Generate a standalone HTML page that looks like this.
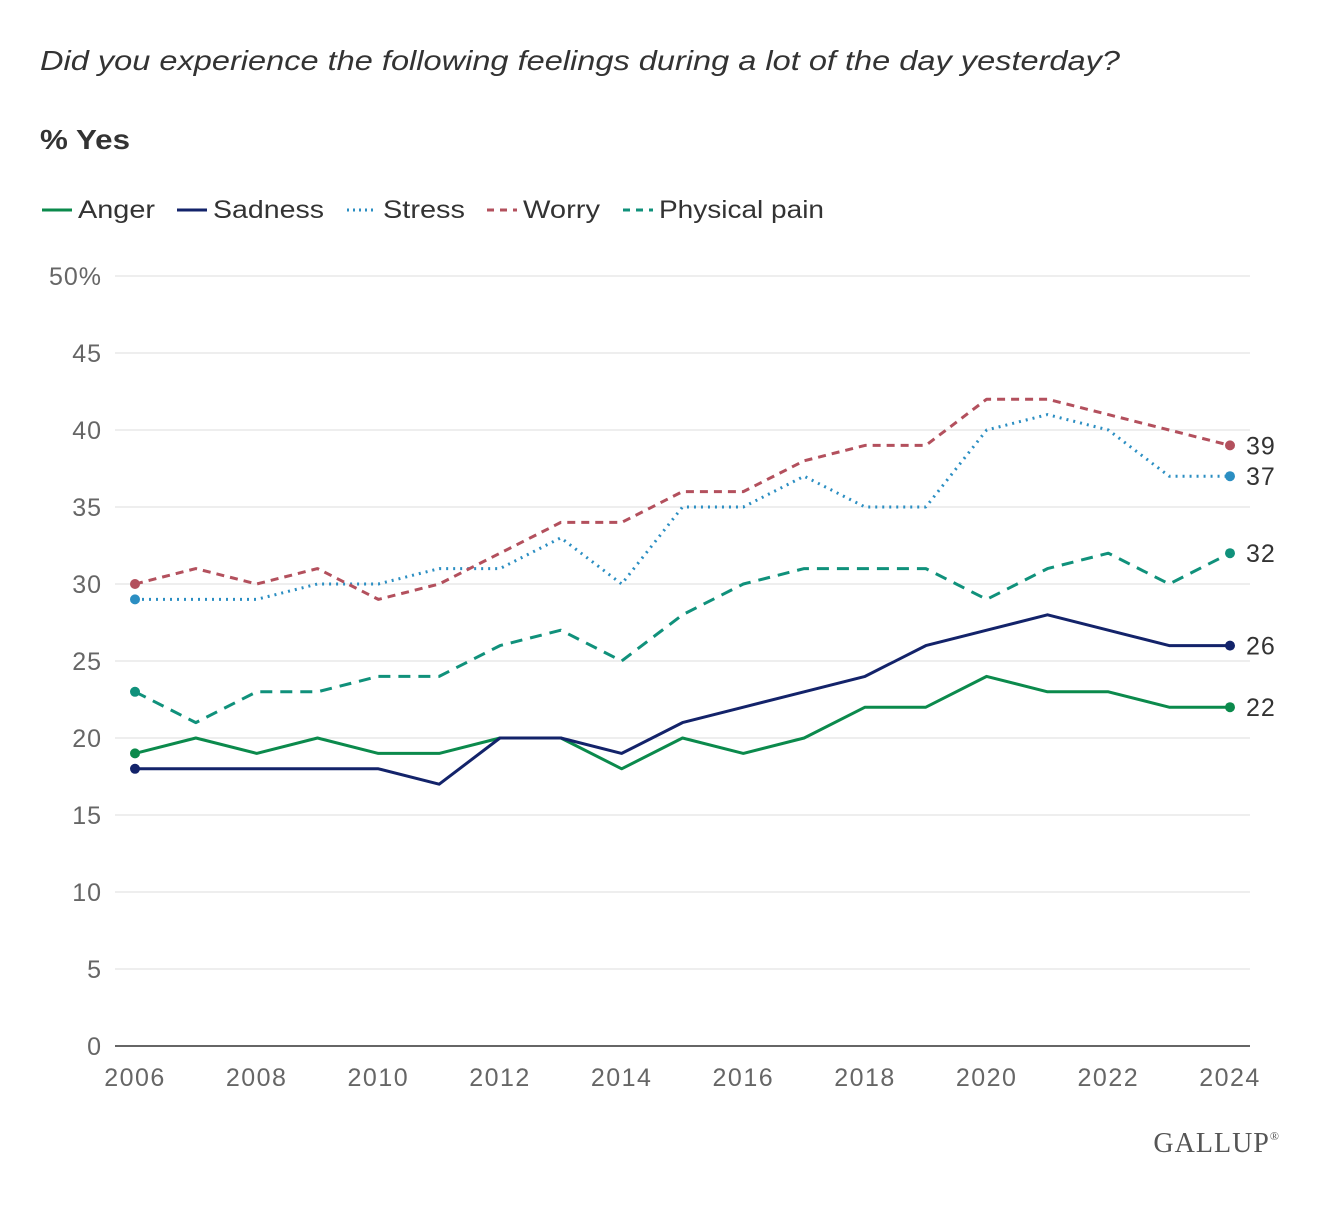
<!DOCTYPE html>
<html><head><meta charset="utf-8"><style>
body{margin:0;background:#fff;width:1320px;height:1200px;overflow:hidden;font-family:"Liberation Sans",sans-serif}
</style></head><body>
<svg id="chart" width="1320" height="1200" xmlns="http://www.w3.org/2000/svg">
<text x="40" y="70" font-size="28" font-style="italic" fill="#333" textLength="1080" lengthAdjust="spacingAndGlyphs">Did you experience the following feelings during a lot of the day yesterday?</text>
<text x="40" y="149" font-size="28" font-weight="bold" fill="#333" textLength="90" lengthAdjust="spacingAndGlyphs">% Yes</text>
<g id="legend"></g>
<g id="grid"></g>
<g id="series"></g>
<text x="1280" y="1152" font-size="28" text-anchor="end" fill="#555" font-family="Liberation Serif,serif" letter-spacing="1">GALLUP<tspan font-size="12" dy="-12">®</tspan></text>
</svg>
<script>
const years=[2006,2007,2008,2009,2010,2011,2012,2013,2014,2015,2016,2017,2018,2019,2020,2021,2022,2023,2024];
const anger=[19,20,19,20,19,19,20,20,18,20,19,20,22,22,24,23,23,22,22];
const sadness=[18,18,18,18,18,17,20,20,19,21,22,23,24,26,27,28,27,26,26];
const stress=[29,29,29,30,30,31,31,33,30,35,35,37,35,35,40,41,40,37,37];
const worry=[30,31,30,31,29,30,32,34,34,36,36,38,39,39,42,42,41,40,39];
const pain=[23,21,23,23,24,24,26,27,25,28,30,31,31,31,29,31,32,30,32];
const yTicks=[0,5,10,15,20,25,30,35,40,45,50];
const xTicks=[2006,2008,2010,2012,2014,2016,2018,2020,2022,2024];
const NS="http://www.w3.org/2000/svg";
const x=v=>135+(v-2006)*(1230-135)/18;
const y=v=>1046-v*(1046-276)/50;
function mk(t,a,p){const e=document.createElementNS(NS,t);for(const k in a)e.setAttribute(k,a[k]);p.appendChild(e);return e;}
const grid=document.getElementById('grid');
yTicks.forEach(t=>{
 const l=mk('line',{x1:115,x2:1250,y1:y(t),y2:y(t),stroke:t==0?'#333':'#ddd','stroke-width':t==0?1.5:1},grid);
 
 
 const tx=mk('text',{x:102,y:y(t)+9,'font-size':25,'letter-spacing':1,'text-anchor':'end',fill:'#666'},grid);
 tx.textContent=t==50?'50%':t;
 
 
});
xTicks.forEach(t=>{
 const tx=mk('text',{x:x(t),y:1086,'font-size':25,'letter-spacing':1.5,'text-anchor':'middle',fill:'#666'},grid);
 tx.textContent=t;
 
 
});
const S=[
 {n:'Anger',d:anger,c:'#0b8a4c',dash:'',w:3},
 {n:'Sadness',d:sadness,c:'#13236a',dash:'',w:3},
 {n:'Stress',d:stress,c:'#2b8ec2',dash:'2 5',w:3},
 {n:'Worry',d:worry,c:'#b3505d',dash:'8 6',w:3},
 {n:'Physical pain',d:pain,c:'#10917b',dash:'12 8',w:3}
];
const g=document.getElementById('series');
S.forEach(s=>{
 const p=mk('path',{d:s.d.map((v,i)=>(i?'L':'M')+x(years[i])+','+y(v)).join(''),fill:'none',stroke:s.c,'stroke-width':s.w,'stroke-dasharray':s.dash,'stroke-linejoin':'round'},g);
 
 
 [0,s.d.length-1].forEach(i=>{
  const c=mk('circle',{cx:x(years[i]),cy:y(s.d[i]),r:5,fill:s.c},g);
  
  
 });
 const t=mk('text',{x:1246,y:y(s.d[s.d.length-1])+9,'font-size':25,'letter-spacing':1,fill:'#333'},g);
 t.textContent=s.d[s.d.length-1];
 
 
});
const lg=document.getElementById('legend');
const lxs=[42,177,347,487,623];
const tws=[77,111,82,77,165];
S.forEach((s,i)=>{
 const lx=lxs[i];
 const l=mk('line',{x1:lx,x2:lx+30,y1:210,y2:210,stroke:s.c,'stroke-width':3,'stroke-dasharray':s.dash==''?'':(s.dash=='2 5'?'2 4':'7 6')},lg);
 
 
 const t=mk('text',{x:lx+36,y:218,'font-size':25,fill:'#333',textLength:tws[i],lengthAdjust:'spacingAndGlyphs'},lg);
 t.textContent=s.n;
 
 
});
</script>
</body></html>
